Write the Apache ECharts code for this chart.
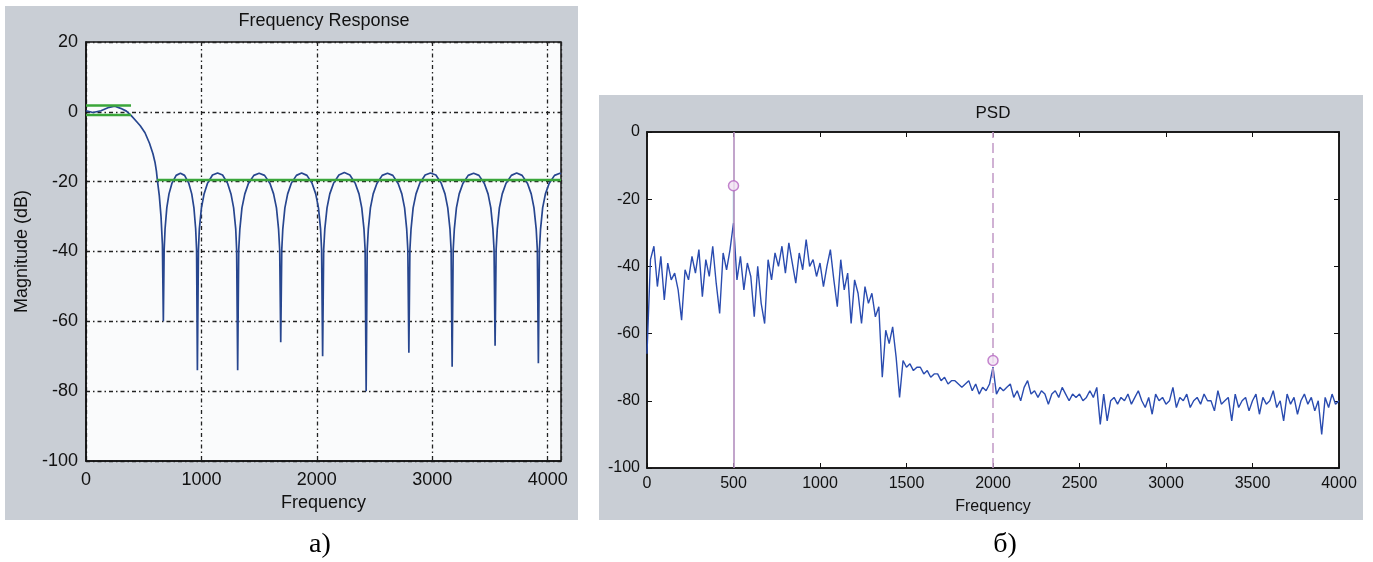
<!DOCTYPE html>
<html>
<head>
<meta charset="utf-8">
<script src="https://cdn.jsdelivr.net/npm/echarts@6/dist/echarts.min.js"></script>
<style>
html, body { margin: 0; background: #fff; }
#chart { width: 1373px; height: 562px; }
</style>
</head>
<body>
<div id="chart"></div>
<script>
// ---- panel a) : filter frequency response ----
var respFreq = [0, 60, 130, 200, 250, 300, 350, 390, 430, 470, 511, 550, 580, 598, 610, 618, 635, 650, 662, 670,
  677, 685, 700, 719, 744, 781, 818, 854, 891, 916, 935, 950, 958, 965,
  974, 982, 1000, 1023, 1052, 1096, 1140, 1183, 1227, 1256, 1279, 1297, 1305, 1314,
  1323, 1333, 1351, 1376, 1407, 1454, 1500, 1547, 1594, 1625, 1650, 1668, 1678, 1687,
  1696, 1705, 1723, 1747, 1778, 1823, 1868, 1914, 1959, 1990, 2014, 2032, 2041, 2050,
  2059, 2069, 2088, 2112, 2144, 2191, 2238, 2286, 2333, 2365, 2389, 2408, 2418, 2427,
  2436, 2446, 2464, 2488, 2520, 2566, 2612, 2658, 2704, 2736, 2760, 2778, 2788, 2797,
  2806, 2816, 2834, 2859, 2891, 2938, 2984, 3031, 3078, 3110, 3134, 3153, 3163, 3172,
  3181, 3191, 3209, 3233, 3265, 3311, 3358, 3404, 3451, 3483, 3507, 3525, 3535, 3544,
  3553, 3563, 3581, 3606, 3638, 3685, 3731, 3778, 3825, 3857, 3881, 3900, 3910, 3919,
  3928, 3938, 3956, 3980, 4012, 4059, 4106, 4115];
var respDb = [0.3, -0.2, 0.3, 1.3, 1.6, 1.0, 0.2, -1, -2.5, -4, -6, -9, -12, -14.5, -17, -19.5, -24, -30, -38, -60,
  -39.5, -33.5, -27.5, -23.5, -20.5, -18.2, -17.6, -18.2, -20.5, -23.5, -27.5, -33.5, -39.5, -74,
  -39.5, -33.5, -27.5, -23.5, -20.5, -18.1, -17.5, -18.1, -20.5, -23.5, -27.5, -33.5, -39.5, -74,
  -39.5, -33.5, -27.5, -23.5, -20.5, -18.2, -17.6, -18.2, -20.5, -23.5, -27.5, -33.5, -39.5, -66,
  -39.5, -33.5, -27.5, -23.5, -20.5, -18.2, -17.5, -18.2, -20.5, -23.5, -27.5, -33.5, -39.5, -70,
  -39.5, -33.5, -27.5, -23.5, -20.5, -18.1, -17.4, -18.1, -20.5, -23.5, -27.5, -33.5, -39.5, -80,
  -39.5, -33.5, -27.5, -23.5, -20.5, -18.2, -17.6, -18.2, -20.5, -23.5, -27.5, -33.5, -39.5, -69,
  -39.5, -33.5, -27.5, -23.5, -20.5, -18.1, -17.5, -18.1, -20.5, -23.5, -27.5, -33.5, -39.5, -73,
  -39.5, -33.5, -27.5, -23.5, -20.5, -18.2, -17.6, -18.2, -20.5, -23.5, -27.5, -33.5, -39.5, -67,
  -39.5, -33.5, -27.5, -23.5, -20.5, -18.2, -17.5, -18.2, -20.5, -23.5, -27.5, -33.5, -39.5, -72,
  -39.5, -33.5, -27.5, -23.5, -20.5, -18.2, -17.6, -17.8];
var passEdge = [0, 390];
var passRipple = [1.8, -0.9];
var stopEdge = [615, 4115];
var stopLevel = -19.5;

// ---- panel b) : PSD, one value every 20 Hz from 0 to 4000 ----
var psdStep = 20;
var psdDb = [
  -66, -38, -34, -46, -37, -50, -39, -44, -42, -47,
  -56, -41, -44, -37, -42, -35, -49, -38, -43, -34,
  -45, -54, -36, -41, -35, -27, -44, -37, -47, -39,
  -43, -55, -40, -51, -57, -38, -44, -36, -40, -34,
  -42, -33, -39, -45, -36, -41, -32, -40, -38, -43,
  -39, -46, -40, -35, -44, -52, -38, -47, -42, -57,
  -44, -48, -57, -46, -51, -48, -55, -52, -73, -59,
  -63, -58, -67, -79, -68, -70, -69, -71, -70, -70,
  -72, -71, -73, -72, -72, -74, -73, -75, -74, -74,
  -75, -76, -75, -74, -77, -75, -78, -76, -77, -75,
  -70, -78, -76, -77, -76, -75, -79, -77, -80, -76,
  -74, -78, -77, -79, -77, -78, -81, -78, -77, -79,
  -76, -78, -80, -78, -79, -78, -80, -79, -77, -79,
  -76, -87, -78, -86, -80, -79, -81, -79, -80, -78,
  -81, -79, -77, -80, -82, -79, -84, -78, -80, -79,
  -81, -80, -76, -82, -79, -80, -78, -82, -80, -79,
  -81, -78, -80, -80, -83, -77, -81, -80, -79, -86,
  -78, -82, -80, -79, -83, -80, -78, -84, -79, -81,
  -80, -77, -82, -80, -86, -78, -81, -79, -84, -80,
  -78, -81, -79, -83, -80, -90, -79, -82, -78, -81,
  -80];
var markerFreq = [500, 2000];
var markerDb = [-16, -68];
var stemDb = [-17.5, -27];

var respData = respFreq.map(function (f, i) { return [f, respDb[i]]; });
var psdData = psdDb.map(function (v, i) { return [i * psdStep, v]; });

var box = echarts.init(document.getElementById('chart'));
var font = 'Liberation Sans';
var dashDot = [4, 3, 1.5, 3];
var plain = function (v) { return String(v); };

var option = {
  animation: false,
  backgroundColor: '#fff',
  graphic: [
    { type: 'rect', z: -10, shape: { x: 5, y: 6, width: 573, height: 514 }, style: { fill: '#c9ced5' } },
    { type: 'rect', z: -10, shape: { x: 599, y: 95, width: 764, height: 425 }, style: { fill: '#c9ced5' } },
    { type: 'text', x: 324, y: 21, style: { text: 'Frequency Response', font: '18px "Liberation Sans"', fill: '#111', align: 'center', verticalAlign: 'middle' } },
    { type: 'text', x: 993, y: 113, style: { text: 'PSD', font: '17px "Liberation Sans"', fill: '#111', align: 'center', verticalAlign: 'middle' } },
    { type: 'text', x: 320, y: 545, style: { text: 'а)', font: '28px "Liberation Serif"', fill: '#000', align: 'center', verticalAlign: 'middle' } },
    { type: 'text', x: 1005, y: 545, style: { text: 'б)', font: '28px "Liberation Serif"', fill: '#000', align: 'center', verticalAlign: 'middle' } }
  ],
  grid: [
    { left: 86, top: 42, width: 475, height: 419, show: true, backgroundColor: '#fafbfc', borderColor: '#111', borderWidth: 1.5 },
    { left: 647, top: 132, width: 692, height: 336, show: true, backgroundColor: '#fff', borderColor: '#111', borderWidth: 1.5 }
  ],
  xAxis: [
    {
      gridIndex: 0, type: 'value', min: 0, max: 4115, interval: 1000,
      axisLine: { onZero: false, lineStyle: { color: '#111', width: 1.5 } },
      axisTick: { show: false },
      axisLabel: { fontFamily: font, fontSize: 18, color: '#111', margin: 10, showMaxLabel: false, formatter: plain },
      splitLine: { show: true, lineStyle: { color: '#222', type: dashDot, width: 1.3 } },
      name: 'Frequency', nameLocation: 'middle', nameGap: 33,
      nameTextStyle: { fontFamily: font, fontSize: 18, color: '#111' }
    },
    {
      gridIndex: 1, type: 'value', min: 0, max: 4000, interval: 500,
      axisLine: { onZero: false, lineStyle: { color: '#111', width: 1.5 } },
      axisTick: { inside: true, length: 5, lineStyle: { color: '#111' } },
      axisLabel: { fontFamily: font, fontSize: 16, color: '#111', margin: 8, formatter: plain },
      splitLine: { show: false },
      name: 'Frequency', nameLocation: 'middle', nameGap: 31,
      nameTextStyle: { fontFamily: font, fontSize: 16, color: '#111' }
    },
    {
      gridIndex: 1, type: 'value', position: 'top', min: 0, max: 4000, interval: 500,
      axisLine: { onZero: false, lineStyle: { color: '#111', width: 1.5 } },
      axisTick: { inside: true, length: 5, lineStyle: { color: '#111' } },
      axisLabel: { show: false }, splitLine: { show: false }
    }
  ],
  yAxis: [
    {
      gridIndex: 0, type: 'value', min: -100, max: 20, interval: 20,
      axisLine: { show: true, onZero: false, lineStyle: { color: '#111', width: 1.5 } },
      axisTick: { show: false },
      axisLabel: { fontFamily: font, fontSize: 18, color: '#111', margin: 8 },
      splitLine: { show: true, lineStyle: { color: '#222', type: dashDot, width: 1.3 } },
      name: 'Magnitude (dB)', nameLocation: 'middle', nameGap: 55, nameRotate: 90,
      nameTextStyle: { fontFamily: font, fontSize: 18, color: '#111' }
    },
    {
      gridIndex: 1, type: 'value', min: -100, max: 0, interval: 20,
      axisLine: { show: true, onZero: false, lineStyle: { color: '#111', width: 1.5 } },
      axisTick: { show: true, inside: true, length: 5, lineStyle: { color: '#111' } },
      axisLabel: { fontFamily: font, fontSize: 16, color: '#111', margin: 7 },
      splitLine: { show: false }
    },
    {
      gridIndex: 1, type: 'value', position: 'right', min: -100, max: 0, interval: 20,
      axisLine: { show: true, onZero: false, lineStyle: { color: '#111', width: 1.5 } },
      axisTick: { show: true, inside: true, length: 5, lineStyle: { color: '#111' } },
      axisLabel: { show: false }, splitLine: { show: false }
    }
  ],
  series: [
    {
      type: 'line', xAxisIndex: 0, yAxisIndex: 0, data: respData, showSymbol: false,
      lineStyle: { color: '#27468f', width: 1.7 }, z: 3
    },
    {
      type: 'line', xAxisIndex: 0, yAxisIndex: 0, showSymbol: false, z: 4,
      data: [[passEdge[0], passRipple[0]], [passEdge[1], passRipple[0]]],
      lineStyle: { color: '#3aa63a', width: 2.5 }
    },
    {
      type: 'line', xAxisIndex: 0, yAxisIndex: 0, showSymbol: false, z: 4,
      data: [[passEdge[0], passRipple[1]], [passEdge[1], passRipple[1]]],
      lineStyle: { color: '#3aa63a', width: 2.5 }
    },
    {
      type: 'line', xAxisIndex: 0, yAxisIndex: 0, showSymbol: false, z: 4,
      data: [[stopEdge[0], stopLevel], [stopEdge[1], stopLevel]],
      lineStyle: { color: '#3aa63a', width: 2.5 }
    },
    {
      type: 'line', xAxisIndex: 1, yAxisIndex: 1, data: psdData, showSymbol: false,
      lineStyle: { color: '#2a4cb0', width: 1.4 }, z: 3,
      markLine: {
        silent: true, symbol: 'none', label: { show: false }, animation: false,
        data: [
          { xAxis: markerFreq[0], lineStyle: { color: '#b38fbf', type: 'solid', width: 1.6 } },
          { xAxis: markerFreq[1], lineStyle: { color: '#c59fca', type: [10, 5], width: 1.6 } }
        ]
      }
    },
    {
      type: 'line', xAxisIndex: 1, yAxisIndex: 1, showSymbol: false, z: 4,
      data: [[markerFreq[0], stemDb[0]], [markerFreq[0], stemDb[1]]],
      lineStyle: { color: '#a8dfe6', width: 1.6 }
    },
    {
      type: 'scatter', xAxisIndex: 1, yAxisIndex: 1, symbol: 'circle', symbolSize: 10, z: 5,
      data: markerFreq.map(function (f, i) { return [f, markerDb[i]]; }),
      itemStyle: { color: '#f1e4f3', borderColor: '#b566c2', borderWidth: 1.5 }
    }
  ]
};

box.setOption(option);
</script>
</body>
</html>
